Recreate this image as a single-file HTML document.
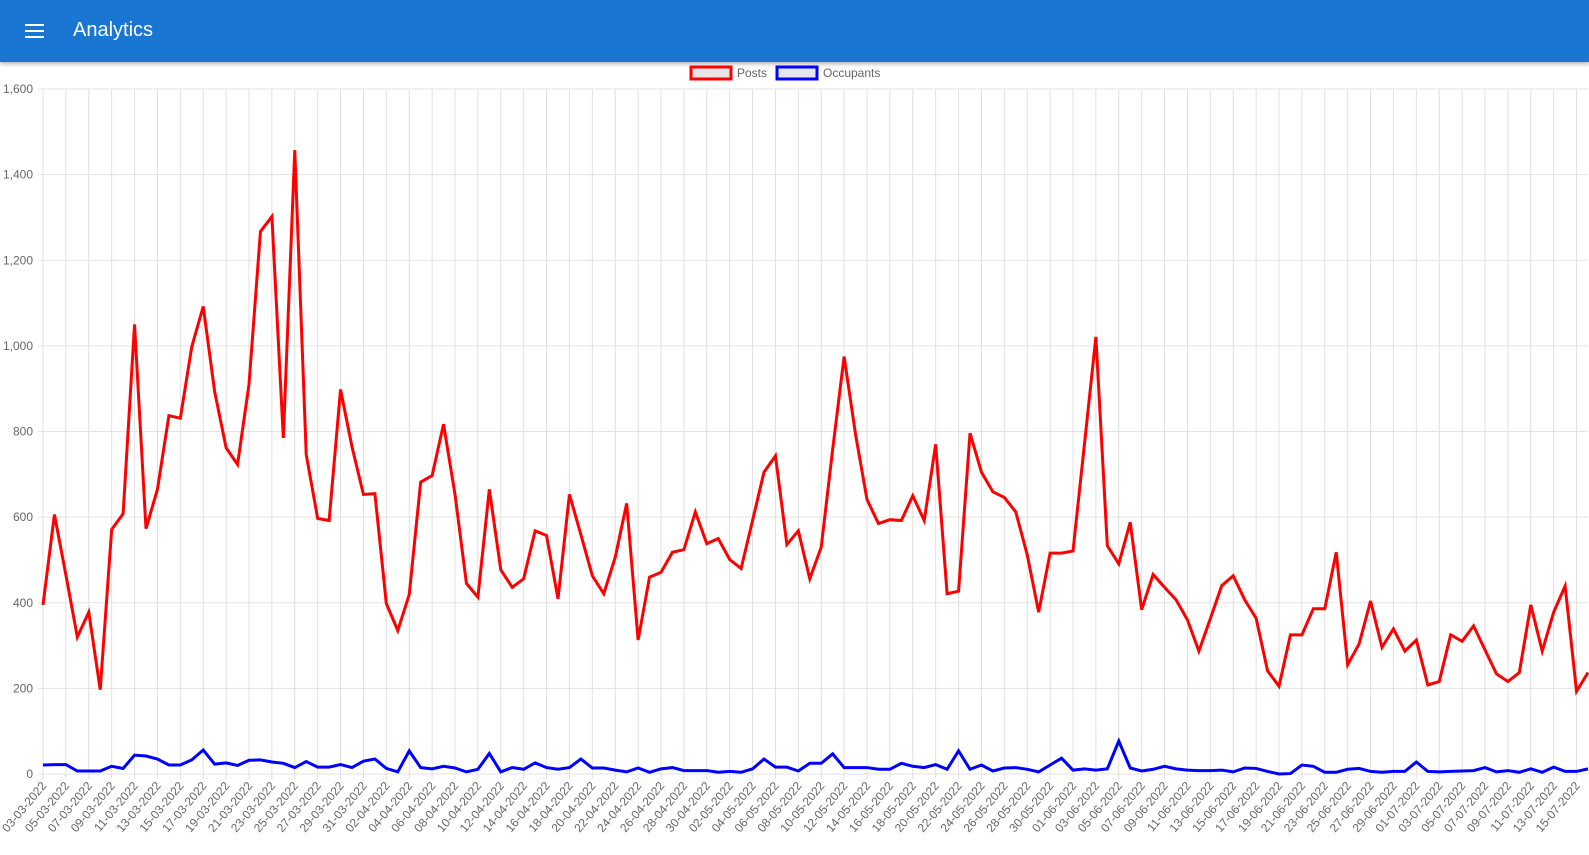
<!DOCTYPE html>
<html><head><meta charset="utf-8"><style>
body{margin:0;width:1589px;height:855px;overflow:hidden;background:#fff;font-family:"Liberation Sans",Arial,sans-serif}
.bar{position:absolute;left:0;top:0;width:1589px;height:62px;background:#1976d2;box-shadow:0 2px 4px rgba(0,0,0,.3)}
.menu{position:absolute;left:25px;top:24px;width:19px;height:14px}
.menu span{display:block;height:2px;background:#fff;margin-bottom:4px}
.title{position:absolute;left:73px;top:19px;color:#fff;font-size:20px;font-weight:500}
svg{position:absolute;left:0;top:0}
</style></head><body>
<div class="bar">
<div class="menu"><span></span><span></span><span></span></div>
<div class="title">Analytics</div>
</div>
<svg id="chart" width="1589" height="855"></svg>
<script>
const posts=[395,606,465,320,378,197,571,608,1050,573,665,837,831,998,1092,893,762,723,910,1267,1302,785,1457,746,597,592,898,764,653,655,398,335,419,682,697,817,653,445,413,665,477,436,456,568,557,409,653,559,463,421,506,632,313,460,471,518,524,612,538,550,501,480,592,705,743,536,568,456,530,758,975,793,641,585,594,592,650,592,770,421,427,796,705,659,646,612,512,378,516,516,521,770,1021,533,491,588,384,466,436,407,360,287,363,440,463,407,364,241,205,325,325,386,386,518,255,304,404,296,339,287,313,208,216,325,310,346,290,234,216,237,395,287,378,439,193,237];
const occupants=[21,22,22,7,7,7,18,13,44,42,35,21,21,33,56,23,26,20,32,33,28,25,15,29,16,16,22,15,30,35,13,5,54,15,12,18,14,5,11,48,5,15,11,26,15,11,15,35,14,14,9,5,14,4,12,15,8,8,8,4,6,4,12,35,16,16,7,25,25,47,15,15,15,11,11,25,18,15,22,11,54,11,21,7,14,15,11,5,21,37,9,12,9,12,77,14,7,11,18,12,9,8,8,9,5,14,13,6,0,1,21,18,4,4,11,13,6,4,6,6,28,6,5,6,7,8,15,5,8,4,12,4,16,6,6,12];
const yTicks=[0,200,400,600,800,1000,1200,1400,1600];
const startDate=[2022,2,3];
const NS='http://www.w3.org/2000/svg';
const svg=document.getElementById('chart');
const X0=43,X1=1588,Y0=774,Y1=89,YMAX=1600;
const n=posts.length;
function xPos(i){return X0+(X1-X0)*i/(n-1);}
function yPos(v){return Y0-(Y0-Y1)*v/YMAX;}
function mk(t,a){const e=document.createElementNS(NS,t);for(const k in a)e.setAttribute(k,a[k]);svg.appendChild(e);return e;}
function lbl(i){const d=new Date(startDate[0],startDate[1],startDate[2]+i);const p=x=>String(x).padStart(2,'0');return p(d.getDate())+'-'+p(d.getMonth()+1)+'-'+d.getFullYear();}
for(const t of yTicks){
 const g=mk('line',{x1:X0-5,x2:X1,y1:yPos(t),y2:yPos(t),stroke:'#e3e3e3','stroke-width':1});
 
 
 const tx=mk('text',{x:X0-10,y:yPos(t)+4,'text-anchor':'end','font-size':12,fill:'#666'});
 tx.textContent=t.toLocaleString('en-US');
 
 
}
for(let i=0;i<n;i+=2){
 const g=mk('line',{x1:xPos(i),x2:xPos(i),y1:Y1,y2:Y0+5,stroke:'#e0e0e0','stroke-width':1});
 
 
 const tx=mk('text',{x:xPos(i)+4,y:Y0+12,'text-anchor':'end','font-size':12,fill:'#666',transform:`rotate(-50 ${xPos(i)+4} ${Y0+12})`});
 tx.textContent=lbl(i);
 
 
}
function series(arr,color,name){
 const p=mk('polyline',{points:arr.map((v,i)=>xPos(i)+','+yPos(v)).join(' '),fill:'none',stroke:color,'stroke-width':3,'stroke-linejoin':'miter'});
 
 
}
series(posts,'#f00','posts-line');
series(occupants,'#00f','occupants-line');
const r1=mk('rect',{x:691,y:67,width:40,height:12,fill:'#e6e6e6',stroke:'#f00','stroke-width':3});


const t1=mk('text',{x:737,y:77,'font-size':12,fill:'#666'});t1.textContent='Posts';


const r2=mk('rect',{x:777,y:67,width:40,height:12,fill:'#e6e6e6',stroke:'#00f','stroke-width':3});


const t2=mk('text',{x:823,y:77,'font-size':12,fill:'#666'});t2.textContent='Occupants';


</script>
</body></html>
